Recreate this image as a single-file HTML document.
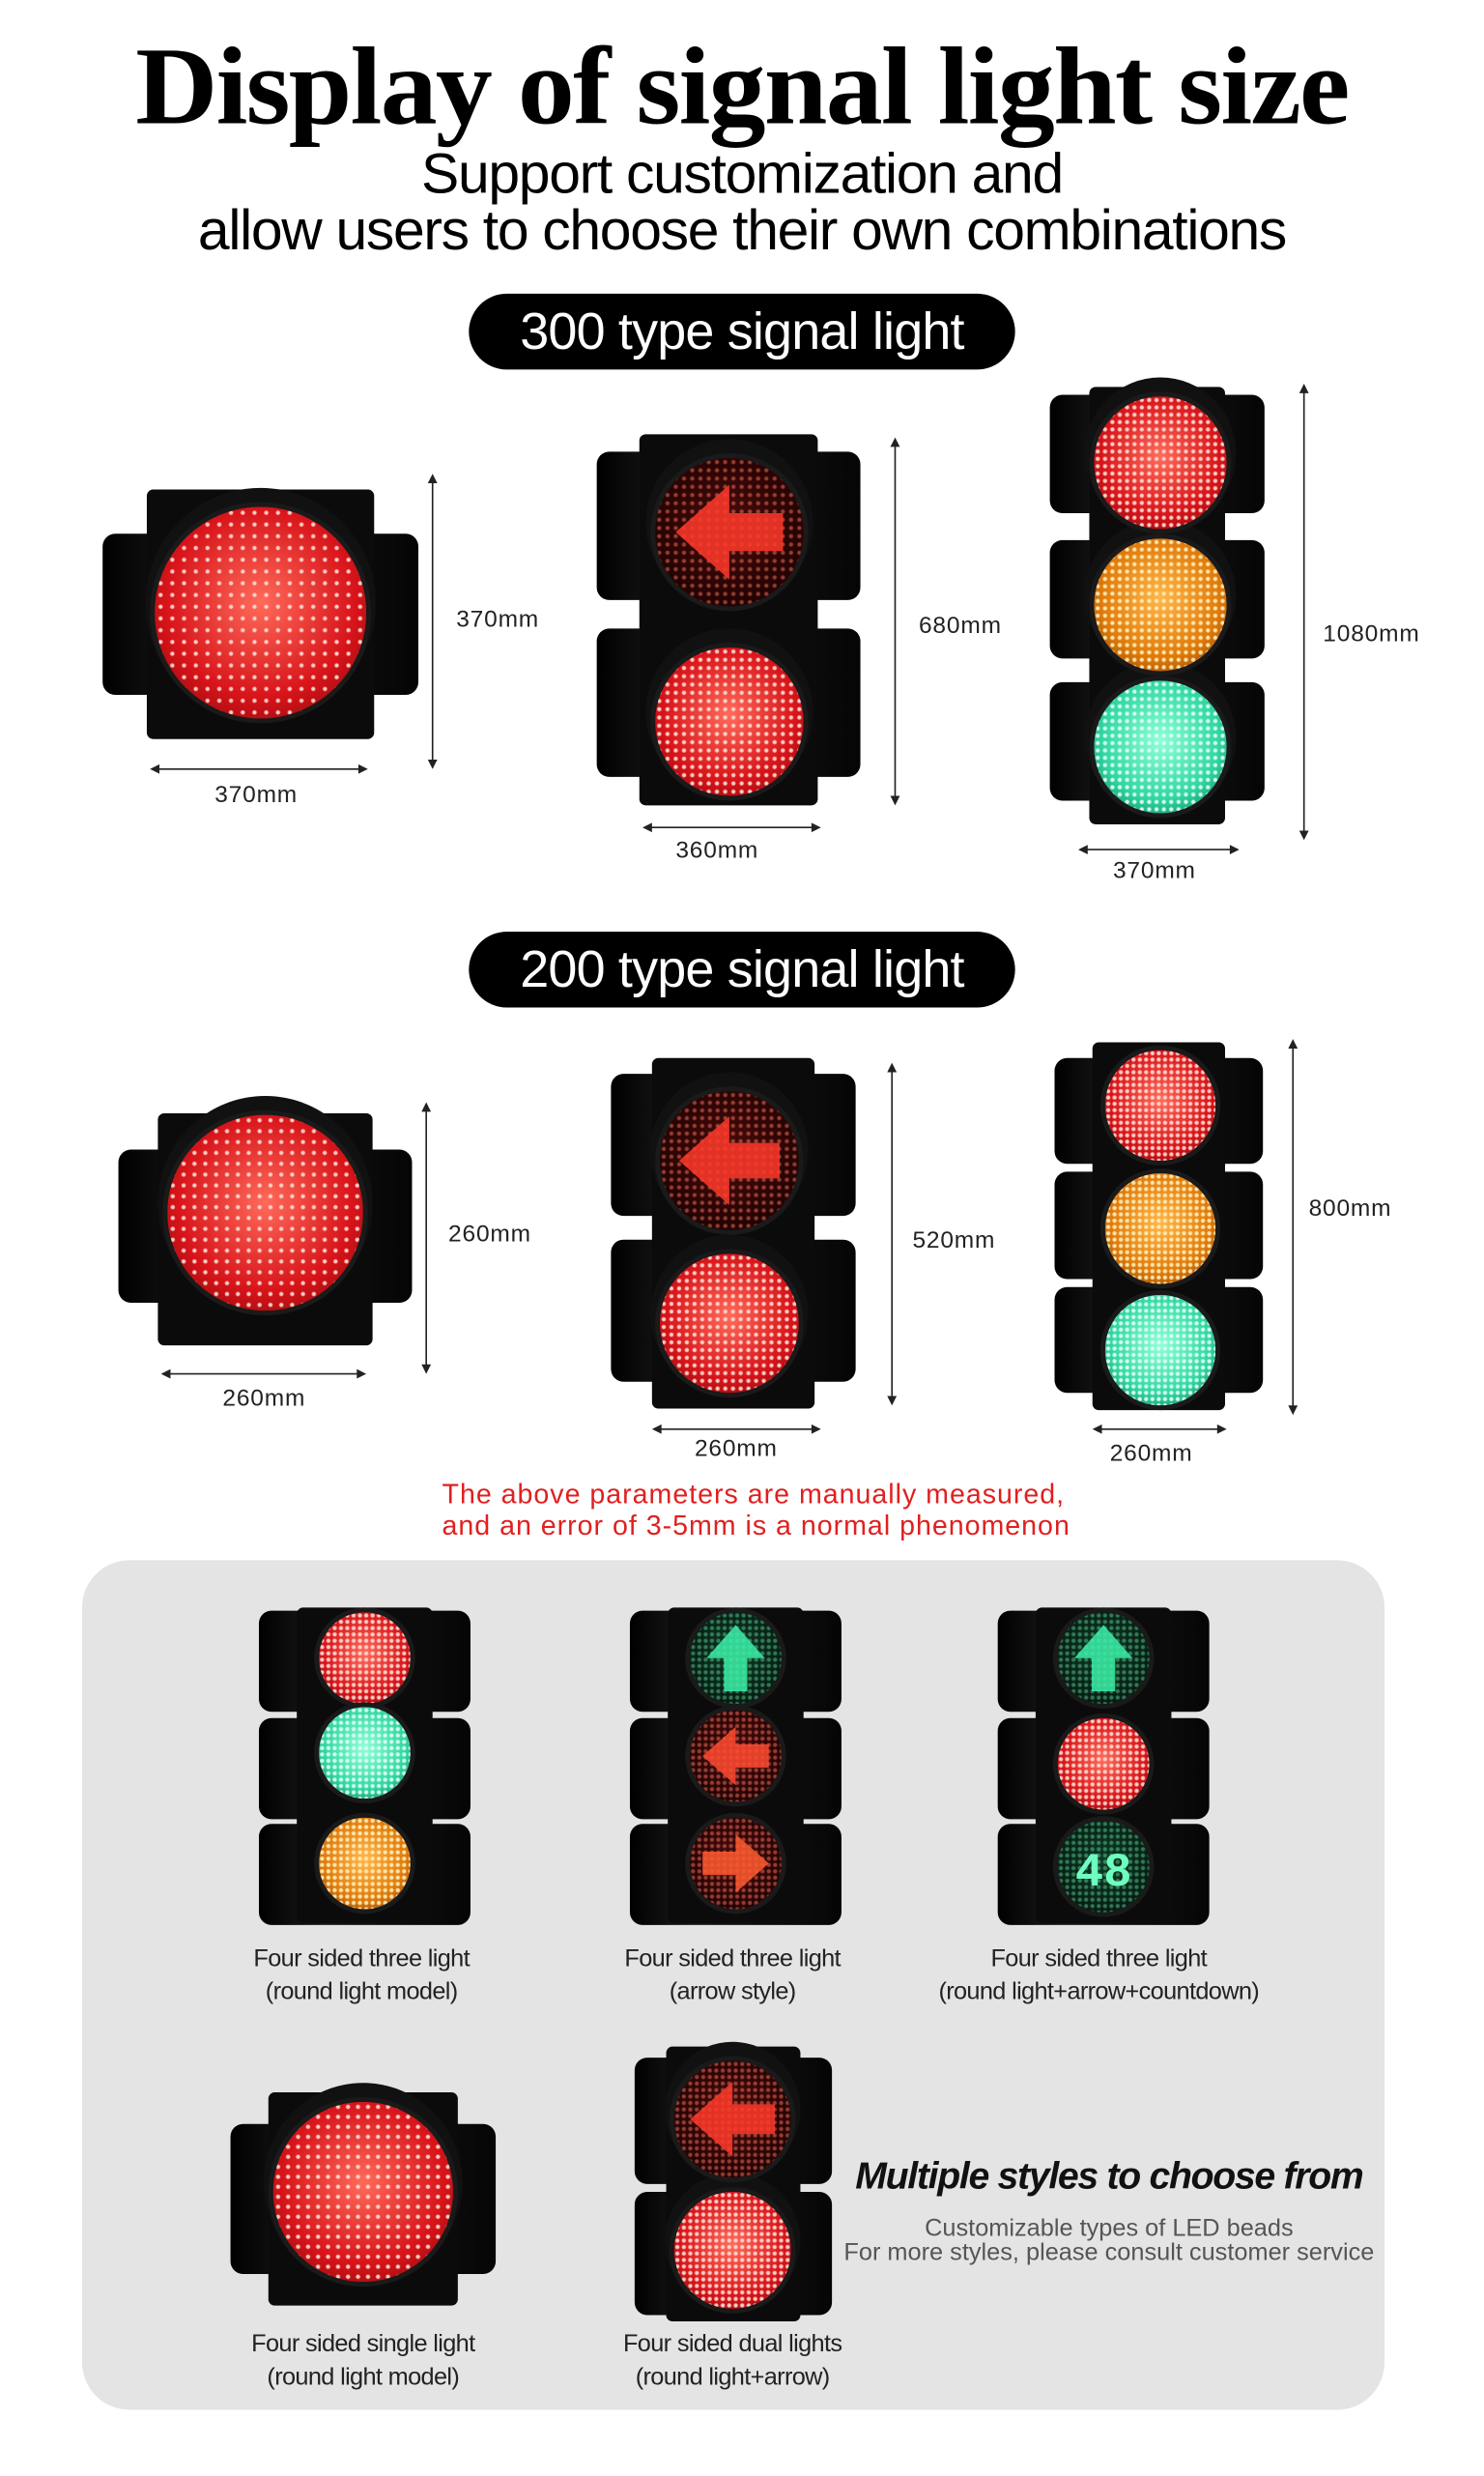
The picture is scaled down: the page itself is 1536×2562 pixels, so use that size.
<!DOCTYPE html>
<html><head><meta charset="utf-8">
<style>
html,body{margin:0;padding:0;background:#fff;}
body{width:1536px;height:2560px;overflow:hidden;position:relative;}
#s{position:absolute;left:0;top:0;width:940px;height:1568px;transform:scale(1.634);transform-origin:0 0;font-family:"Liberation Sans",sans-serif;}
.a{position:absolute;}
.t{white-space:nowrap;text-align:center;}
.pill{position:absolute;background:#000;color:#fff;border-radius:26px;text-align:center;font-size:33px;line-height:48px;letter-spacing:-0.5px;}
.lbl{position:absolute;font-size:15px;color:#222;white-space:nowrap;letter-spacing:0.5px;}
.cap{position:absolute;font-size:15.5px;color:#222;text-align:center;white-space:nowrap;letter-spacing:-0.4px;line-height:21px;}
.hous{position:absolute;background:#0b0b0b;border-radius:4px;}
.ear{position:absolute;background:linear-gradient(90deg,#000,#1c1c1c 30%,#050505);border-radius:8px;}
.lamp{position:absolute;border-radius:50%;}
</style></head><body>
<div id="s">
<div class="a t" style="left:0;width:940px;top:18px;font-family:'Liberation Serif',serif;font-weight:bold;font-size:70px;line-height:76px;letter-spacing:-1px;transform:scaleX(1.03);transform-origin:471px 0;">Display of signal light size</div>
<div class="a t" style="left:0;width:940px;top:92px;font-size:36px;line-height:36px;letter-spacing:-0.8px;">Support customization and<br>allow users to choose their own combinations</div>
<div class="pill" style="left:297px;top:186px;width:346px;">300 type signal light</div>
<div class="pill" style="left:297px;top:590px;width:346px;">200 type signal light</div>

<div class="lbl" style="left:289px;top:384px;">370mm</div>
<div class="lbl" style="left:136px;top:495px;">370mm</div>
<div class="lbl" style="left:582px;top:388px;">680mm</div>
<div class="lbl" style="left:428px;top:530px;">360mm</div>
<div class="lbl" style="left:838px;top:393px;">1080mm</div>
<div class="lbl" style="left:705px;top:543px;">370mm</div>

<div class="lbl" style="left:284px;top:773px;">260mm</div>
<div class="lbl" style="left:141px;top:877px;">260mm</div>
<div class="lbl" style="left:578px;top:777px;">520mm</div>
<div class="lbl" style="left:440px;top:909px;">260mm</div>
<div class="lbl" style="left:829px;top:757px;">800mm</div>
<div class="lbl" style="left:703px;top:912px;">260mm</div>

<div class="a" style="left:280px;top:936px;color:#e02020;font-size:17.5px;line-height:20px;letter-spacing:0.6px;white-space:nowrap;">The above parameters are manually measured,<br>and an error of 3-5mm is a normal phenomenon</div>

<div class="a" style="left:52px;top:988px;width:825px;height:538px;background:#e4e4e4;border-radius:30px;"></div>

<div class="cap" style="left:129px;width:200px;top:1230px;">Four sided three light<br>(round light model)</div>
<div class="cap" style="left:364px;width:200px;top:1230px;">Four sided three light<br>(arrow style)</div>
<div class="cap" style="left:566px;width:260px;top:1230px;">Four sided three light<br>(round light+arrow+countdown)</div>
<div class="cap" style="left:130px;width:200px;top:1474px;">Four sided single light<br>(round light model)</div>
<div class="cap" style="left:364px;width:200px;top:1474px;">Four sided dual lights<br>(round light+arrow)</div>

<div class="a t" style="left:530px;width:345px;top:1365px;font-size:24px;font-weight:bold;font-style:italic;letter-spacing:-0.8px;color:#111;">Multiple styles to choose from</div>
<div class="a t" style="left:510px;width:385px;top:1404px;font-size:15.5px;line-height:15px;color:#555;letter-spacing:0px;">Customizable types of LED beads<br>For more styles, please consult customer service</div>

<svg id="g" class="a" style="left:0;top:0" width="940" height="1568"></svg>
</div>
<script>
var S=document.getElementById('s'),G=document.getElementById('g');
function el(cls,x,y,w,h,extra){var d=document.createElement('div');d.className=cls;d.style.left=x+'px';d.style.top=y+'px';d.style.width=w+'px';d.style.height=h+'px';if(extra)d.style.cssText+=extra;S.insertBefore(d,G);return d;}
var COL={r:['#ff6a5a','#d8141a','#7a0508','rgba(255,215,205,.95)'],y:['#ffb64a','#e07a0a','#7a3a02','rgba(255,235,180,.95)'],g:['#8effd8','#2fd6a2','#0b6a4c','rgba(220,255,240,.95)'],d:['#4a0a0a','#2a0404','#120000','rgba(255,120,100,.5)'],gd:['#0c3a26','#062216','#020e08','rgba(120,255,180,.4)']};
function lamp(cx,cy,r,c){var k=COL[c];var p=Math.max(4,r/9);
 el('lamp',cx-r-3,cy-r-3,2*r+6,2*r+6,'background:#1a1a1a;');
 el('lamp',cx-r,cy-r,2*r,2*r,'background:radial-gradient(circle,'+k[3]+' 0.9px,transparent 1.7px) 0 0/'+p+'px '+p+'px,radial-gradient(circle at 50% 45%,'+k[0]+','+k[1]+' 60%,'+k[2]+');');}
function sv(tag,a){var e=document.createElementNS('http://www.w3.org/2000/svg',tag);for(var k in a)e.setAttribute(k,a[k]);G.appendChild(e);return e;}
function arrow(cx,cy,r,dir,col){var s=r/47;var pts=[[-34,0],[0,-30],[0,-12],[34,-12],[34,12],[0,12],[0,30]];
 var rot={l:0,r:180,u:90}[dir];var str=pts.map(function(p){return (p[0]*s)+','+(p[1]*s)}).join(' ');
 sv('polygon',{points:str,fill:col,opacity:0.85,transform:'translate('+cx+','+cy+') rotate('+rot+')'});}
function dimV(x,y1,y2){sv('line',{x1:x,y1:y1+5,x2:x,y2:y2-5,stroke:'#222','stroke-width':1});sv('polygon',{points:x+','+y1+' '+(x-3)+','+(y1+6)+' '+(x+3)+','+(y1+6),fill:'#222'});sv('polygon',{points:x+','+y2+' '+(x-3)+','+(y2-6)+' '+(x+3)+','+(y2-6),fill:'#222'});}
function dimH(y,x1,x2){sv('line',{x1:x1+5,y1:y,x2:x2-5,y2:y,stroke:'#222','stroke-width':1});sv('polygon',{points:x1+','+y+' '+(x1+6)+','+(y-3)+' '+(x1+6)+','+(y+3),fill:'#222'});sv('polygon',{points:x2+','+y+' '+(x2-6)+','+(y-3)+' '+(x2-6)+','+(y+3),fill:'#222'});}
function light(hx,hy,hw,hh,ew,ears,lamps,hood){
 ears.forEach(function(e){el('ear',hx-ew,e[0],hw+2*ew,e[1]);});
 el('hous',hx,hy,hw,hh);
 lamps.forEach(function(l){if(hood)el('lamp',l[0]-l[2]-6,l[1]-l[2]-12,2*l[2]+12,2*l[2]+12,'background:#111;');});
 lamps.forEach(function(l){lamp(l[0],l[1],l[2],l[3]);});}
light(93,310,144,158,28,[[338,102]],[[165,388,67,'r']],true);
light(405,275,113,235,27,[[286,94],[398,94]],[[462,337,47,'d'],[462,457,47,'r']],true);
arrow(462,337,47,'l','#ff3a2a');
light(690,245,86,277,25,[[250,75],[342,75],[432,75]],[[735,293,42,'r'],[735,383,42,'y'],[735,473,42,'g']],true);
dimV(274,300,487);dimH(487,95,233);dimV(567,277,510);dimH(524,407,520);dimV(826,243,532);dimH(538,683,785);
light(100,705,136,147,25,[[728,97]],[[168,768,62,'r']],true);
light(413,670,103,222,26,[[680,90],[785,90]],[[462,735,44,'d'],[462,838,44,'r']],true);
arrow(462,735,44,'l','#ff3a2a');
light(692,660,84,233,24,[[670,67],[742,68],[815,67]],[[735,700,35,'r'],[735,778,35,'y'],[735,855,35,'g']],false);
dimV(270,698,870);dimH(870,102,232);dimV(565,673,890);dimH(905,413,520);dimV(819,658,896);dimH(905,692,777);
light(188,1018,86,200,24,[[1020,64],[1088,64],[1155,64]],[[231,1050,29,'r'],[231,1110,29,'g'],[231,1180,29,'y']],false);
light(423,1018,86,200,24,[[1020,64],[1088,64],[1155,64]],[[466,1050,29,'gd'],[466,1112,29,'d'],[466,1180,29,'d']],false);
arrow(466,1050,29,'u','#3cf0a8');arrow(466,1112,29,'l','#ff4a30');arrow(466,1180,29,'r','#ff5a30');
light(656,1018,86,200,24,[[1020,64],[1088,64],[1155,64]],[[699,1050,29,'gd'],[699,1117,29,'r'],[699,1182,29,'gd']],false);
arrow(699,1050,29,'u','#3cf0a8');
sv('text',{x:699,y:1194,'text-anchor':'middle','font-family':'Liberation Mono, monospace','font-size':30,'font-weight':'bold',fill:'#6effc0'}).textContent='48';
light(170,1325,120,135,24,[[1345,95]],[[230,1388,57,'r']],true);
light(422,1296,85,174,20,[[1303,80],[1388,78]],[[464,1342,37,'d'],[464,1425,37,'r']],true);
arrow(464,1342,37,'l','#ff3a2a');
</script>
</body></html>
